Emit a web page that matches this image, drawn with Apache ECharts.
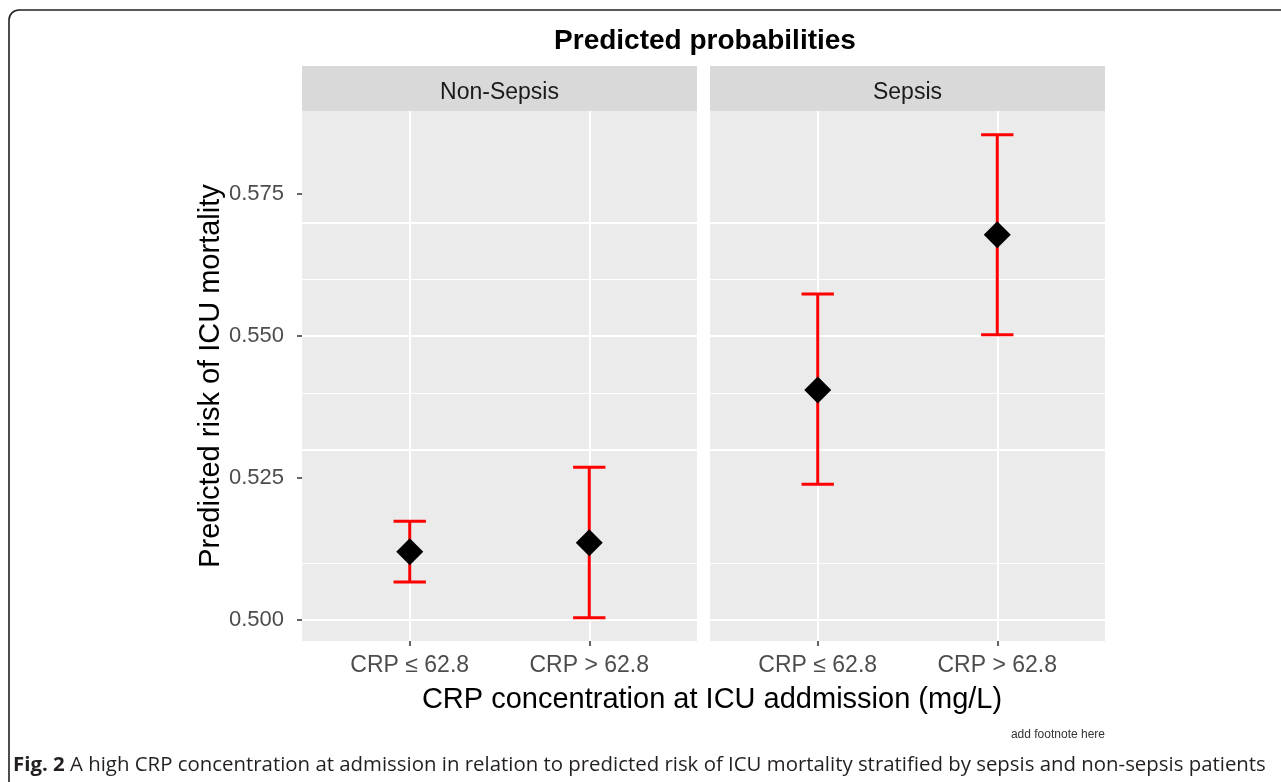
<!DOCTYPE html>
<html>
<head>
<meta charset="utf-8">
<script src="https://cdn.jsdelivr.net/npm/echarts@6/dist/echarts.min.js"></script>
<style>
html,body{margin:0;padding:0;background:#fff;}
#chart{width:1281px;height:782px;}
</style>
</head>
<body>
<div id="chart"></div>
<script>
// ---- data ----
const categories = ['CRP ≤ 62.8', 'CRP > 62.8'];
const panels = ['Non-Sepsis', 'Sepsis'];
const nonSepsisEst = [0.5120, 0.5136];
const nonSepsisLow = [0.5067, 0.5004];
const nonSepsisHigh = [0.5174, 0.5269];
const sepsisEst = [0.5405, 0.5678];
const sepsisLow = [0.5239, 0.5502];
const sepsisHigh = [0.5574, 0.5854];
const yTicks = [0.500, 0.525, 0.550, 0.575];
const yMinorTicks = [0.5125, 0.5375, 0.5625, 0.5875];
const xTicks = [1, 2];

const titleText = 'Predicted probabilities';
const xTitle = 'CRP concentration at ICU addmission (mg/L)';
const yTitle = 'Predicted risk of ICU mortality';
const footnote = 'add footnote here';
const captionBold = 'Fig. 2';
const captionText = ' A high CRP concentration at admission in relation to predicted risk of ICU mortality stratified by sepsis and non-sepsis patients';

// ---- layout ----
const FONT = "'Liberation Sans', Arial, sans-serif";
const gridTop = 111, gridH = 530, gridW = 395;
const gridLefts = [302, 710];
const stripTop = 66, stripH = 45;

const chart = echarts.init(document.getElementById('chart'));

const estSets = [nonSepsisEst, sepsisEst];
const lowSets = [nonSepsisLow, sepsisLow];
const highSets = [nonSepsisHigh, sepsisHigh];

const series = [];
panels.forEach((p, i) => {
  const gridLines = [];
  yMinorTicks.forEach(v => gridLines.push({yAxis: v, lineStyle: {color: '#ffffff', width: 1, type: 'solid'}}));
  yTicks.forEach(v => gridLines.push({yAxis: v, lineStyle: {color: '#ffffff', width: 2, type: 'solid'}}));
  xTicks.forEach(v => gridLines.push({xAxis: v, lineStyle: {color: '#ffffff', width: 2, type: 'solid'}}));
  series.push({
    type: 'line', xAxisIndex: i, yAxisIndex: i, data: [], z: 1, silent: true,
    markLine: {silent: true, z: 1, symbol: ['none', 'none'], label: {show: false}, animation: false, emphasis: {disabled: true}, data: gridLines}
  });
  series.push({
    type: 'custom', xAxisIndex: i, yAxisIndex: i, z: 6, silent: true,
    data: categories.map((c, k) => [k + 1, lowSets[i][k], highSets[i][k]]),
    renderItem: function (params, api) {
      const x = api.value(0), lo = api.value(1), hi = api.value(2);
      const w = 0.09;
      const top = api.coord([x, hi]), bot = api.coord([x, lo]);
      const tl = api.coord([x - w, hi]), tr = api.coord([x + w, hi]);
      const bl = api.coord([x - w, lo]), br = api.coord([x + w, lo]);
      const st = {stroke: '#FF0000', lineWidth: 3, fill: null};
      return {
        type: 'group',
        children: [
          {type: 'line', shape: {x1: top[0], y1: top[1], x2: bot[0], y2: bot[1]}, style: st},
          {type: 'line', shape: {x1: tl[0], y1: tl[1], x2: tr[0], y2: tr[1]}, style: st},
          {type: 'line', shape: {x1: bl[0], y1: bl[1], x2: br[0], y2: br[1]}, style: st}
        ]
      };
    }
  });
  series.push({
    type: 'scatter', xAxisIndex: i, yAxisIndex: i, z: 7, silent: true,
    symbol: 'diamond', symbolSize: 27,
    itemStyle: {color: '#000000', opacity: 1},
    data: categories.map((c, k) => [k + 1, estSets[i][k]])
  });
});

const option = {
  animation: false,
  backgroundColor: '#ffffff',
  grid: gridLefts.map(l => ({left: l, top: gridTop, width: gridW, height: gridH, show: true, backgroundColor: '#EBEBEB', borderWidth: 0, containLabel: false})),
  xAxis: gridLefts.map((l, i) => ({
    type: 'value', gridIndex: i, min: 0.4, max: 2.6,
    axisLine: {show: false},
    splitLine: {show: false},
    axisTick: {show: true, customValues: xTicks, length: 5, lineStyle: {color: '#333333', width: 1.5}},
    axisLabel: {show: true, customValues: xTicks, margin: 13, color: '#4D4D4D', fontSize: 23, fontFamily: FONT,
      formatter: v => categories[Math.round(v) - 1] || ''}
  })),
  yAxis: gridLefts.map((l, i) => ({
    type: 'value', gridIndex: i, min: 0.4963, max: 0.5896,
    name: i === 0 ? yTitle : '',
    nameLocation: 'middle', nameRotate: 90, nameGap: 75,
    nameTextStyle: {color: '#000000', fontSize: 29, fontFamily: FONT},
    axisLine: {show: false},
    splitLine: {show: false},
    axisTick: {show: i === 0, customValues: yTicks, length: 5, lineStyle: {color: '#333333', width: 1.5}},
    axisLabel: {show: i === 0, customValues: yTicks, margin: 18, color: '#4D4D4D', fontSize: 22, fontFamily: FONT,
      formatter: v => v.toFixed(3)}
  })),
  series: series,
  graphic: [
    {type: 'rect', shape: {x: 9, y: 10, width: 1300, height: 800, r: 10}, style: {fill: 'none', stroke: '#222222', lineWidth: 1.6}, z: 0},
    {type: 'rect', shape: {x: gridLefts[0], y: stripTop, width: gridW, height: stripH}, style: {fill: '#D9D9D9'}},
    {type: 'rect', shape: {x: gridLefts[1], y: stripTop, width: gridW, height: stripH}, style: {fill: '#D9D9D9'}},
    {type: 'text', x: gridLefts[0] + gridW / 2, y: stripTop + stripH / 2 + 4, style: {text: panels[0], fill: '#1A1A1A', font: '23px ' + FONT, align: 'center', verticalAlign: 'middle'}},
    {type: 'text', x: gridLefts[1] + gridW / 2, y: stripTop + stripH / 2 + 4, style: {text: panels[1], fill: '#1A1A1A', font: '23px ' + FONT, align: 'center', verticalAlign: 'middle'}},
    {type: 'text', x: 705, y: 41, style: {text: titleText, fill: '#000000', font: 'bold 28px ' + FONT, align: 'center', verticalAlign: 'middle'}},
    {type: 'text', x: 712, y: 700, style: {text: xTitle, fill: '#000000', font: '29px ' + FONT, align: 'center', verticalAlign: 'middle'}},
    {type: 'text', x: 1105, y: 735, style: {text: footnote, fill: '#333333', font: '12px ' + FONT, align: 'right', verticalAlign: 'middle'}},
    {type: 'text', x: 13, y: 765, style: {
      text: '{b|' + captionBold + '}{n|' + captionText + '}',
      verticalAlign: 'middle', align: 'left',
      rich: {
        b: {fontFamily: "'Open Sans', sans-serif", fontWeight: 'bold', fontSize: 20.4, fill: '#231F20'},
        n: {fontFamily: "'Open Sans', sans-serif", fontSize: 20.4, fill: '#231F20'}
      }
    }}
  ]
};
chart.setOption(option);
</script>
</body>
</html>
